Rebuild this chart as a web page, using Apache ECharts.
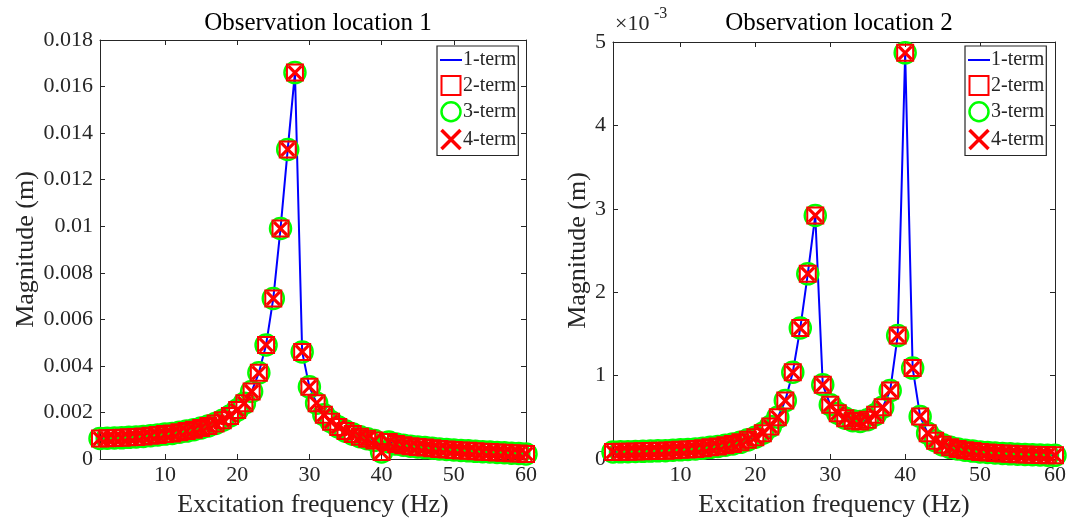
<!DOCTYPE html>
<html><head><meta charset="utf-8">
<script src="https://cdn.jsdelivr.net/npm/echarts@6/dist/echarts.min.js"></script>
<style>html,body{margin:0;padding:0;background:#fff}#c{width:1079px;height:523px}</style>
</head><body><div id="c"></div>
<script>
// ---------- DATA ----------
const freq = [1,2,3,4,5,6,7,8,9,10,11,12,13,14,15,16,17,18,19,20,
  21,22,23,24,25,26,27,28,29,30,31,32,33,34,35,36,37,38,39,40,
  41,42,43,44,45,46,47,48,49,50,51,52,53,54,55,56,57,58,59,60];
// Observation location 1 magnitude (m)
const magLoc1 = [0.00088,0.00089,0.0009,0.00091,0.00093,0.00095,0.00097,0.001,0.00103,0.00107,
  0.0011,0.00115,0.0012,0.00126,0.00133,0.00142,0.00153,0.00167,0.00185,0.0021,
  0.0024,0.0029,0.0037,0.0049,0.0069,0.0099,0.0133,0.0166,0.0046,0.0031,
  0.0024,0.0019,0.0016,0.00138,0.0012,0.00107,0.00096,0.00087,0.0008,0.0003,
  0.00073,0.00064,0.00059,0.00055,0.00052,0.00049,0.00046,0.00043,0.00041,0.00039,
  0.00037,0.00035,0.00033,0.00031,0.0003,0.00028,0.00027,0.00025,0.00024,0.00022];
// Observation location 2 magnitude (m)
const magLoc2 = [0.000085,0.000086,0.000088,0.00009,0.000092,0.000095,0.000098,0.0001,0.000105,0.00011,
  0.000115,0.00012,0.00013,0.00014,0.00015,0.000165,0.00018,0.0002,0.00023,0.00026,
  0.00031,0.00039,0.0005,0.0007,0.00104,0.00157,0.00222,0.00292,0.00089,0.00065,
  0.00055,0.00049,0.00046,0.00045,0.00047,0.00053,0.00062,0.00082,0.00148,0.00487,
  0.00109,0.00051,0.00031,0.00022,0.00017,0.00014,0.00012,0.000105,0.000095,0.000085,
  0.000078,0.000072,0.000067,0.000062,0.000058,0.000055,0.000052,0.000049,0.000046,0.000044];
const xTicks = [10,20,30,40,50,60];
const yTicks1 = [0,0.002,0.004,0.006,0.008,0.01,0.012,0.014,0.016,0.018];
const yTicks2 = [0,0.001,0.002,0.003,0.004,0.005];
const seriesNames = ['1-term','2-term','3-term','4-term'];
const titles = ['Observation location 1','Observation location 2'];
const xName = 'Excitation frequency (Hz)';
const yName = 'Magnitude (m)';

// ---------- CHART ----------
const FONT = 'Liberation Serif';
const INK = '#262626';
const grids = [
  {left:100, top:40, width:426, height:422},
  {left:613, top:42, width:442, height:421}
];
const chart = echarts.init(document.getElementById('c'), null, {renderer:'canvas'});
const xPath = 'path://M0,0L10,10M10,0L0,10';
const sqPath = 'path://M0,0L10,0L10,10L0,10Z';

const xAxes = [], yAxes = [], series = [], legends = [], titleOpts = [];
const dataSets = [magLoc1, magLoc2];
const yTickSets = [yTicks1, yTicks2];
const yFmt = [v => String(+v.toFixed(4)), v => String(+(v*1000).toFixed(3))];
const yNameGap = [60, 22];

grids.forEach((g, i) => {
  const yt = yTickSets[i];
  const common = {gridIndex:i, type:'value', min:1, max:60,
    axisLine:{show:true, onZero:false, lineStyle:{color:INK, width:1}},
    splitLine:{show:false}};
  xAxes.push(Object.assign({}, common, {position:'bottom',
    axisTick:{show:true, inside:true, length:5, customValues:xTicks, lineStyle:{color:INK}},
    axisLabel:{show:true, customValues:xTicks, color:INK, fontFamily:FONT, fontSize:22, margin:5},
    name:xName, nameLocation:'middle', nameGap:33,
    nameTextStyle:{color:INK, fontFamily:FONT, fontSize:26}}));
  xAxes.push(Object.assign({}, common, {position:'top',
    axisTick:{show:true, inside:true, length:5, customValues:xTicks, lineStyle:{color:INK}},
    axisLabel:{show:false}}));
  const ycommon = {gridIndex:i, type:'value', min:yt[0], max:yt[yt.length-1],
    axisLine:{show:true, onZero:false, lineStyle:{color:INK, width:1}},
    splitLine:{show:false}};
  yAxes.push(Object.assign({}, ycommon, {position:'left',
    axisTick:{show:true, inside:true, length:5, customValues:yt, lineStyle:{color:INK}},
    axisLabel:{show:true, customValues:yt, color:INK, fontFamily:FONT, fontSize:22, margin:7, formatter:yFmt[i]},
    name:yName, nameLocation:'middle', nameGap:yNameGap[i], nameRotate:90,
    nameTextStyle:{color:INK, fontFamily:FONT, fontSize:26}}));
  yAxes.push(Object.assign({}, ycommon, {position:'right',
    axisTick:{show:true, inside:true, length:5, customValues:yt, lineStyle:{color:INK}},
    axisLabel:{show:false}}));

  const pts = freq.map((f, k) => [f, dataSets[i][k]]);
  const xi = i*2, yi = i*2;
  series.push({type:'line', name:seriesNames[0], xAxisIndex:xi, yAxisIndex:yi, data:pts,
    symbol:'none', lineStyle:{color:'#0000ff', width:2}, itemStyle:{color:'#0000ff'}, z:2, silent:true});
  series.push({type:'scatter', name:seriesNames[1], xAxisIndex:xi, yAxisIndex:yi, data:pts,
    symbol:'rect', symbolSize:16, itemStyle:{color:'none', borderColor:'#ff0000', borderWidth:2, opacity:1}, z:4, silent:true});
  series.push({type:'scatter', name:seriesNames[2], xAxisIndex:xi, yAxisIndex:yi, data:pts,
    symbol:'circle', symbolSize:21, itemStyle:{color:'none', borderColor:'#00ff00', borderWidth:2.5, opacity:1}, z:3, silent:true});
  series.push({type:'scatter', name:seriesNames[3], xAxisIndex:xi, yAxisIndex:yi, data:pts,
    symbol:xPath, symbolSize:13, itemStyle:{color:'none', borderColor:'#ff0000', borderWidth:3.2, opacity:1}, z:5, silent:true});

  legends.push({
    orient:'vertical', left: i===0 ? 437 : 965, top:46,
    backgroundColor:'#fff', borderColor:INK, borderWidth:1.2, borderRadius:0,
    padding:[4,2,4,2], itemGap:5, itemWidth:22, itemHeight:19, selectedMode:false,
    textStyle:{color:INK, fontFamily:FONT, fontSize:20, padding:[0,0,0,-4]},
    data:[
      {name:seriesNames[0], icon:'path://M0,9L22,9L22,11L0,11Z', itemStyle:{color:'#0000ff', borderWidth:0}},
      {name:seriesNames[1], icon:sqPath, itemStyle:{color:'#fff', borderColor:'#ff0000', borderWidth:2}},
      {name:seriesNames[2], icon:'circle', itemStyle:{color:'#fff', borderColor:'#00ff00', borderWidth:2.5}},
      {name:seriesNames[3], icon:xPath, itemStyle:{color:'none', borderColor:'#ff0000', borderWidth:3.5}}
    ]
  });
  titleOpts.push({text:titles[i], left: g.left + g.width/2, top:6, textAlign:'center',
    textStyle:{color:'#000', fontFamily:FONT, fontSize:25, fontWeight:'normal'}});
});

chart.setOption({
  animation:false,
  backgroundColor:'#fff',
  title:titleOpts,
  grid:grids,
  xAxis:xAxes,
  yAxis:yAxes,
  legend:legends,
  series:series,
  graphic:[
    {type:'text', left:615, top:13, style:{text:'×10', fill:INK, font:'22px "Liberation Serif"'}},
    {type:'text', left:654, top:6, style:{text:'-3', fill:INK, font:'16px "Liberation Serif"'}}
  ]
});
</script>
</body></html>
